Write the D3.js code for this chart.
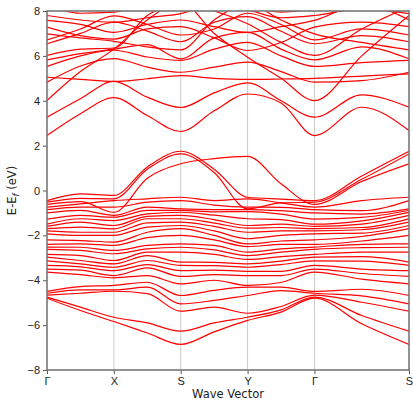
<!DOCTYPE html>
<html lang="en">
<head>
<meta charset="UTF-8">
<title>Band structure</title>
<script src="https://d3js.org/d3.v7.min.js"></script>
<style>
    body { margin: 0; background: #fff; }
    svg { display: block; font-family: "DejaVu Sans", sans-serif; }
    .axis text { font-size: 11px; fill: #222; }
    .axis line { stroke: #555; stroke-width: 1; }
    .band { fill: none; stroke: #ff0000; stroke-width: 1.2; }
    .kline { stroke: #bdbdbd; stroke-width: 0.8; }
</style>
</head>
<body>
<div id="chart"></div>
<script>
// path coordinates of the sampled k-points: G, mid, X, mid, S, mid, Y, mid, G, mid, S
const kPath = [0, 0.5, 1, 1.5, 2, 2.5, 3, 3.5, 4, 4.707, 5.414];
const kTicks = [0, 1, 2, 3, 4, 5.414];
const kLabels = ["Γ", "X", "S", "Y", "Γ", "S"];
const yTicks = [-8, -6, -4, -2, 0, 2, 4, 6, 8];

// valence energies (eV) read at each sampled k-point, one entry per band
const vGamma = [-0.45, -0.52, -0.62, -0.74, -0.85, -1.00, -1.28, -1.50, -1.60, -1.70, -1.80, -1.93, -2.20, -2.40, -2.52, -2.62, -2.85, -2.97, -3.14, -3.34, -3.50, -3.64, -4.50, -4.58, -4.66, -4.75, -4.80];
const vM1    = [-0.15, -0.35, -0.50, -0.60, -0.74, -0.89, -1.11, -1.26, -1.41, -1.63, -1.86, -2.00, -2.23, -2.38, -2.53, -2.67, -2.90, -3.12, -3.27, -3.40, -3.55, -3.75, -4.28, -4.43, -4.58, -5.20, -5.35];
const vX     = [-0.22, -0.37, -0.97, -0.45, -0.74, -1.11, -1.19, -1.34, -1.56, -1.71, -1.86, -2.00, -2.30, -2.45, -2.67, -2.82, -3.12, -3.27, -3.42, -3.57, -3.79, -3.89, -4.23, -4.43, -4.49, -5.65, -5.84];
const vM2    = [1.05, 0.95, 0.55, -0.37, -0.52, -0.74, -0.89, -1.04, -1.15, -1.26, -1.44, -1.63, -1.86, -2.10, -2.45, -2.60, -2.75, -2.90, -3.12, -3.30, -3.45, -3.79, -4.09, -4.31, -4.60, -5.90, -6.35];
const vS     = [1.75, 1.63, 1.19, -0.30, -0.45, -0.82, -0.89, -0.97, -1.11, -1.26, -1.41, -1.56, -1.70, -2.00, -2.38, -2.53, -2.75, -3.19, -3.34, -3.57, -3.83, -4.16, -4.68, -5.05, -5.38, -6.27, -6.86];
const vM3    = [0.95, 0.80, 1.42, -0.45, -0.65, -0.85, -0.95, -1.10, -1.30, -1.45, -1.60, -1.80, -2.00, -2.20, -2.45, -2.65, -2.85, -3.20, -3.35, -3.55, -3.75, -4.00, -4.45, -4.90, -5.20, -5.90, -6.30];
const vY     = [-0.30, -0.82, 1.52, -0.37, -0.74, -0.85, -0.94, -1.26, -1.56, -1.68, -1.86, -2.15, -2.38, -2.50, -2.75, -2.90, -3.07, -3.27, -3.42, -3.60, -3.79, -4.23, -4.31, -4.68, -5.47, -5.65, -5.79];
const vM4    = [-0.38, -0.55, 0.30, -0.55, -0.75, -0.90, -1.05, -1.30, -1.50, -1.65, -1.80, -2.00, -2.25, -2.40, -2.60, -2.75, -2.95, -3.15, -3.30, -3.60, -3.79, -4.10, -4.31, -4.46, -5.17, -5.32, -5.42];
const vM5    = [0.65, 0.50, 0.40, -0.45, -0.90, -1.05, -1.20, -1.35, -1.50, -1.65, -1.75, -1.90, -2.05, -2.25, -2.40, -2.55, -2.75, -2.95, -3.15, -3.50, -3.70, -3.95, -4.40, -4.70, -4.98, -5.57, -5.94];

// conduction bands (eV), each row follows kPath
const conductionBands = [
    [2.45, 3.42, 4.14, 3.34, 2.63, 3.55, 4.30, 3.90, 2.45, 3.71, 2.67],
    [3.27, 4.09, 4.86, 4.16, 3.70, 4.35, 4.80, 4.00, 3.27, 4.26, 3.71],
    [4.01, 5.30, 6.30, 7.60, 8.40, 7.00, 5.94, 5.00, 4.01, 6.00, 7.80],
    [5.05, 4.95, 4.86, 4.98, 5.12, 5.00, 4.95, 4.97, 5.00, 5.10, 5.20],
    [4.83, 5.55, 5.88, 5.50, 5.27, 5.50, 5.72, 5.30, 4.83, 4.90, 5.27],
    [5.53, 6.00, 6.25, 5.95, 5.80, 6.30, 6.60, 6.00, 5.53, 5.70, 5.80],
    [5.82, 6.10, 6.30, 6.50, 5.87, 6.80, 7.05, 6.30, 5.82, 6.40, 5.87],
    [6.02, 6.30, 6.35, 7.80, 8.30, 8.00, 7.43, 6.60, 6.02, 7.20, 8.20],
    [6.54, 7.00, 7.50, 7.10, 6.63, 7.50, 7.75, 7.10, 6.54, 6.90, 6.63],
    [6.71, 7.20, 7.78, 7.40, 6.93, 7.20, 7.90, 7.40, 6.71, 7.20, 6.93],
    [6.98, 6.80, 6.65, 6.40, 6.27, 7.60, 8.30, 7.60, 6.98, 6.60, 6.27],
    [7.28, 6.90, 6.75, 7.20, 7.30, 6.80, 6.24, 6.60, 7.28, 7.50, 7.30],
    [7.58, 7.40, 7.05, 7.40, 7.60, 7.30, 7.05, 7.30, 7.58, 8.30, 7.60],
    [7.80, 7.60, 7.50, 7.70, 7.88, 8.30, 8.05, 7.70, 7.80, 8.10, 7.88],
    [8.30, 7.90, 7.95, 8.30, 8.10, 8.40, 8.20, 7.95, 8.10, 8.40, 8.10]
];

const valenceColumns = [vGamma, vM1, vX, vM2, vS, vM3, vY, vM4, vGamma, vM5, vS];
const valenceBands = d3.range(vGamma.length).map(i => valenceColumns.map(c => c[i]));
const bands = conductionBands.concat(valenceBands);

const W = 413, H = 403;
const margin = {top: 11, right: 4, bottom: 33, left: 47};
const width = W - margin.left - margin.right;
const height = H - margin.top - margin.bottom;

const svg = d3.select("#chart").append("svg")
    .attr("width", W)
    .attr("height", H);

const g = svg.append("g")
    .attr("transform", `translate(${margin.left},${margin.top})`);

const x = d3.scaleLinear().domain([0, 5.414]).range([0, width]);
const y = d3.scaleLinear().domain([-8, 8]).range([height, 0]);

g.append("clipPath").attr("id", "plotClip")
    .append("rect").attr("width", width).attr("height", height);

// high symmetry lines
g.selectAll(".kline")
    .data(kTicks.slice(1, -1))
    .enter().append("line")
    .attr("class", "kline")
    .attr("x1", d => x(d)).attr("x2", d => x(d))
    .attr("y1", 0).attr("y2", height);

const line = d3.line()
    .x((d, i) => x(kPath[i]))
    .y(d => y(d))
    .curve(d3.curveMonotoneX);

g.append("g").attr("clip-path", "url(#plotClip)")
    .selectAll(".band")
    .data(bands)
    .enter().append("path")
    .attr("class", "band")
    .attr("d", line);

// axes
const yAxis = g.append("g").attr("class", "axis")
    .call(d3.axisLeft(y).tickValues(yTicks).tickSize(4).tickPadding(3));
yAxis.select(".domain").remove();

const xAxis = g.append("g").attr("class", "axis")
    .attr("transform", `translate(0,${height})`)
    .call(d3.axisBottom(x).tickValues(kTicks).tickFormat((d, i) => kLabels[i]).tickSize(4).tickPadding(3));
xAxis.select(".domain").remove();

g.append("rect")
    .attr("width", width).attr("height", height)
    .attr("fill", "none")
    .attr("stroke", "#777")
    .attr("stroke-width", 1.6);

svg.append("text")
    .attr("x", margin.left + width / 2)
    .attr("y", H - 5)
    .attr("text-anchor", "middle")
    .attr("font-size", 11.5)
    .attr("fill", "#222")
    .text("Wave Vector");

const yl = svg.append("text")
    .attr("transform", `translate(16,${margin.top + height / 2}) rotate(-90)`)
    .attr("text-anchor", "middle")
    .attr("font-size", 11.5)
    .attr("fill", "#222");
yl.append("tspan").text("E-E");
yl.append("tspan").attr("font-style", "italic").attr("font-size", 8.5).attr("dy", 3).text("f");
yl.append("tspan").attr("dy", -3).text(" (eV)");
</script>
</body>
</html>
